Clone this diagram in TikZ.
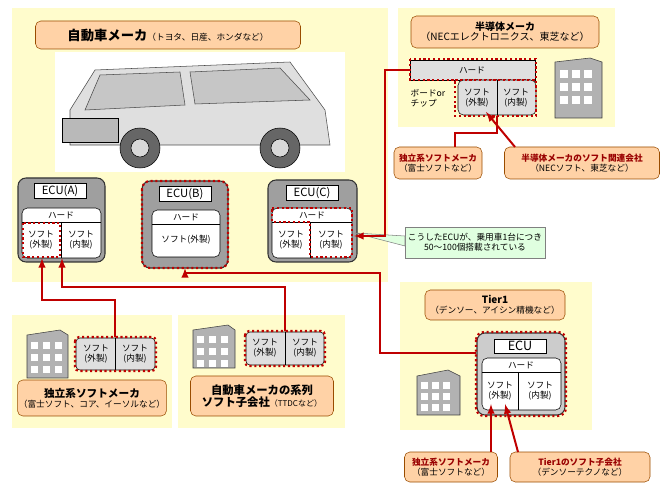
\documentclass[tikz,border=0pt]{standalone}
\usepackage{fontspec}
\setmainfont{Noto Sans CJK JP}
\begin{document}
\begin{tikzpicture}[x=0.75pt,y=-0.75pt,font=\fontsize{6.5}{7.5}\selectfont,
 panel/.style={fill=yellow!20,draw=none},
 obox/.style={fill=orange!35,draw=orange!60!black,rounded corners=4pt,align=center,inner sep=1pt},
 ecuouter/.style={fill=gray!75,draw=gray!40!black,rounded corners=6pt,line width=0.8pt},
 redot/.style={draw=red!75!black,dotted,line width=1.6pt},
 inner/.style={fill=white,draw=black,rounded corners=4pt},
 lab/.style={fill=white,draw=black,font=\fontsize{8.5}{9}\selectfont,inner sep=1.5pt,minimum width=52pt*0.75},
 rl/.style={draw=red!75!black,line width=1.5pt},
 ra/.style={rl,-latex},
 bld/.style={fill=gray!60,draw=gray!50!black},
 win/.style={fill=white,draw=none}]
\useasboundingbox (0,0) rectangle (668,488);
% panels
\fill[panel] (12,8) rectangle (388,282);
\fill[panel] (398,8) rectangle (615,127);
\fill[panel] (12,315) rectangle (172,428);
\fill[panel] (178,315) rectangle (345,428);
\fill[panel] (400,282) rectangle (592,430);
% top-left title
\node[obox,minimum width=265*0.75pt,minimum height=28*0.75pt] (t1) at (168,35) {\fontsize{10}{11}\selectfont\bfseries 自動車メーカ\fontsize{6.5}{7}\selectfont\mdseries（トヨタ、日産、ホンダなど）};
% car
\fill[white] (55,52) rectangle (345,172);
\draw[fill=gray!25,draw=gray!60!black] (70,110) -- (95,70) -- (290,62) -- (325,110) -- (330,145) -- (70,145) -- cycle;
\draw[fill=gray!45,draw=gray!60!black] (100,75) -- (180,72) -- (185,105) -- (85,110) -- cycle;
\draw[fill=gray!45,draw=gray!60!black] (190,72) -- (280,68) -- (310,100) -- (195,104) -- cycle;
\draw[fill=gray!55] (62,118) rectangle (118,142);
\foreach \cx in {140,280}{\draw[fill=gray!80!black] (\cx,148) circle (20*0.75pt);\draw[fill=gray!30] (\cx,148) circle (9*0.75pt);}
% ECU A
\draw[ecuouter] (18,178) rectangle (105,262);
\node[lab] (la) at (60,191) {ECU(A)};
\draw[inner] (22,208) rectangle (101,258);
\draw (22,222) -- (101,222); \draw (61,222) -- (61,258);
\node at (61,215) {ハード};
\node[align=center] (aout) at (41,240) {ソフト\\(外製)};
\node[align=center] (ain) at (81,240) {ソフト\\(内製)};
\draw[redot] (23,223) rectangle (60,257);
% ECU B
\draw[ecuouter] (142,181) rectangle (228,268);
\draw[redot,rounded corners=6pt] (142,181) rectangle (228,268);
\node[lab] (lb) at (185,194) {ECU(B)};
\draw[inner] (152,210) rectangle (220,257);
\draw (152,224) -- (220,224);
\node at (186,217) {ハード};
\node (bs) at (186,240) {ソフト(外製)};
% ECU C
\draw[ecuouter] (268,180) rectangle (357,262);
\node[lab] (lc) at (312,193) {ECU(C)};
\draw[inner] (272,208) rectangle (352,258);
\draw (272,222) -- (352,222); \draw (310,222) -- (310,258);
\node at (312,215) {ハード};
\node[align=center] at (291,240) {ソフト\\(外製)};
\node[align=center] at (331,240) {ソフト\\(内製)};
\draw[redot] (272,208) -- (352,208) -- (352,257) -- (310,257) -- (310,222) -- (272,222) -- cycle;
\coordinate (cin) at (354,236);
% callout
\fill[green!12,draw=gray] (405,227) rectangle (545,258);
\draw[gray,fill=green!12] (355,233) -- (405,236) -- (405,246) -- cycle;
\node[align=center] (call) at (475,242) {こうしたECUが、乗用車1台につき\\50〜100個搭載されている};
% semiconductor
\node[obox,minimum width=188*0.75pt,minimum height=32*0.75pt] (t2) at (505,32) {\fontsize{7.5}{9}\selectfont\textbf{半導体メーカ}\\\fontsize{7.5}{9}\selectfont（NECエレクトロニクス、東芝など）};
\fill[gray!25,draw=black] (410,60) rectangle (535,80);
\node at (472,70) {ハード};
\draw[redot] (410,59) rectangle (536,80);
\draw[fill=gray!25,rounded corners=4pt] (458,80) rectangle (536,115);
\draw (497,80) -- (497,115);
\node[align=center] (sout) at (477,98) {ソフト\\(外製)};
\node[align=center] at (516,98) {ソフト\\(内製)};
\draw[redot] (455,80) -- (536,80) -- (536,116) -- (455,116) -- cycle;
\node[align=left] at (428,98) {ボードor\\チップ};
\coordinate (hard) at (410,70);
\fill[bld] (555,62) -- (590,58) -- (602,62) -- (602,118) -- (555,118) -- cycle;
\foreach \i in {0,1,2}\foreach \j in {0,1,2}{\fill[win] (560+\i*12,70+\j*13) rectangle (568+\i*12,78+\j*13);}
\node[obox,minimum width=88*0.75pt,minimum height=32*0.75pt] (s1) at (438,163) {\textbf{\color{red!60!black}独立系ソフトメーカ}\\（富士ソフトなど）};
\node[obox,minimum width=155*0.75pt,minimum height=32*0.75pt] (s2) at (582,163) {\textbf{\color{red!60!black}半導体メーカのソフト関連会社}\\（NECソフト、東芝など）};
\draw[rl] (455,147) -- (455,133) -- (497,133) -- (497,116);
\draw[ra] (515,147) -- (486,112);
\draw[ra] (hard) -- (385,70) -- (385,236) -- (cin);
% bottom-left panels
\fill[bld] (27,335) -- (60,330) -- (68,335) -- (68,378) -- (27,378) -- cycle;
\foreach \i in {0,1,2}\foreach \j in {0,1,2}{\fill[win] (31+\i*12,342+\j*12) rectangle (38+\i*12,349+\j*12);}
\draw[fill=gray!25,rounded corners=3pt] (76,338) rectangle (155,370);
\draw (115,338) -- (115,370);
\node[align=center] at (96,354) {ソフト\\(外製)};
\node[align=center] at (135,354) {ソフト\\(内製)};
\draw[redot,rounded corners=3pt] (75,337) rectangle (156,371);
\node[obox,minimum width=143*0.75pt,minimum height=36*0.75pt] (b1) at (92,398) {\fontsize{8}{9}\selectfont\textbf{独立系ソフトメーカ}\\\fontsize{6.5}{7}\selectfont（富士ソフト、コア、イーソルなど）};
\fill[bld] (193,330) -- (228,325) -- (235,330) -- (235,368) -- (193,368) -- cycle;
\foreach \i in {0,1,2}\foreach \j in {0,1,2}{\fill[win] (197+\i*12,336+\j*12) rectangle (204+\i*12,343+\j*12);}
\draw[fill=gray!25,rounded corners=3pt] (246,332) rectangle (324,365);
\draw (285,332) -- (285,365);
\node[align=center] at (265,348) {ソフト\\(外製)};
\node[align=center] at (305,348) {ソフト\\(内製)};
\draw[redot,rounded corners=3pt] (245,331) rectangle (325,366);
\node[obox,minimum width=143*0.75pt,minimum height=40*0.75pt] (b2) at (262,396) {\fontsize{8.5}{10}\selectfont\textbf{自動車メーカの系列}\\\fontsize{8.5}{10}\selectfont\textbf{ソフト子会社}{\fontsize{6}{7}\selectfont（TTDCなど）}};
\draw[ra] (115,337) -- (115,300) -- (42,300) -- (42,258);
\draw[ra] (285,331) -- (285,287) -- (62,287) -- (62,258);
% Tier1
\node[obox,minimum width=140*0.75pt,minimum height=30*0.75pt] (t3) at (495,305) {\fontsize{7.5}{9}\selectfont\textbf{Tier1}\\\fontsize{6.5}{8}\selectfont（デンソー、アイシン精機など）};
\draw[ecuouter,fill=gray!40] (477,333) rectangle (565,415);
\draw[redot,rounded corners=6pt] (476,332) rectangle (566,416);
\node[lab,font=\fontsize{9.5}{10}\selectfont] at (520,346) {ECU};
\draw[inner] (482,358) rectangle (561,410);
\draw (482,372) -- (561,372); \draw (518,372) -- (518,410);
\node at (521,365) {ハード};
\node[align=center] at (500,391) {ソフト\\(外製)};
\node[align=center] at (540,391) {ソフト\\(内製)};
\coordinate (tin) at (476,353);
\fill[bld] (417,376) -- (448,370) -- (460,376) -- (460,415) -- (417,415) -- cycle;
\foreach \i in {0,1,2}\foreach \j in {0,1,2}{\fill[win] (421+\i*11,382+\j*11) rectangle (428+\i*11,389+\j*11);}
\draw[rl] (tin) -- (380,353) -- (380,273) -- (185,273);
\draw[ra] (185,273) -- (185,268);
\node[obox,minimum width=93*0.75pt,minimum height=30*0.75pt] (u1) at (451,467) {\textbf{\color{red!60!black}独立系ソフトメーカ}\\（富士ソフトなど）};
\node[obox,minimum width=140*0.75pt,minimum height=30*0.75pt] (u2) at (580,467) {\textbf{\color{red!60!black}Tier1のソフト子会社}\\（デンソーテクノなど）};
\draw[ra] (491,452) -- (491,404);
\draw[ra] (518,452) -- (505,404);
\end{tikzpicture}
\end{document}
